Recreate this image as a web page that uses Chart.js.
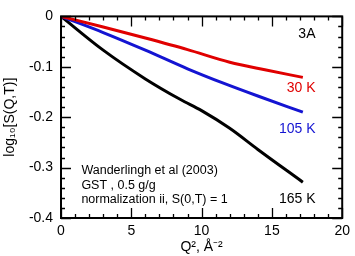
<!DOCTYPE html>
<html><head><meta charset="utf-8">
<script src="https://cdn.jsdelivr.net/npm/chart.js@4/dist/chart.umd.min.js"></script>
<style>html,body{margin:0;padding:0;background:#fff}#wrap{width:355px;height:256px}</style>
</head><body><div id="wrap"><canvas id="c" width="355" height="256"></canvas></div>
<script>
// Data
const q2_30K  = [0, 3, 6, 9, 12, 14.5, 17.2];
const s_30K   = [0, -0.021, -0.043, -0.066, -0.091, -0.106, -0.121];
const q2_105K = [0, 3, 6, 9, 11.5, 14, 17.2];
const s_105K  = [0, -0.032, -0.067, -0.104, -0.132, -0.158, -0.19];
const q2_165K = [0, 3, 6, 8.5, 10, 12, 14, 17.2];
const s_165K  = [0, -0.067, -0.124, -0.165, -0.187, -0.222, -0.264, -0.329];
const seriesNames = ['30 K', '105 K', '165 K'];
const xTicks = [0, 5, 10, 15, 20];
const yTicks = [0, -0.1, -0.2, -0.3, -0.4];
const noteLines = ['Wanderlingh et al (2003)', 'GST , 0.5 g/g', 'normalization ii, S(0,T) = 1'];
const panelLabel = '3A';

const colors = ['#e00000', '#1414d2', '#000000'];
const pts = (xs, ys) => xs.map((x, i) => ({x, y: ys[i]}));
const FONT = 'Liberation Sans, Arial, sans-serif';

const decor = {
  id: 'decor',
  afterDraw(chart) {
    const ctx = chart.ctx, xs = chart.scales.x, ys = chart.scales.y;
    const L = xs.left, R = xs.right, T = ys.top, B = ys.bottom;
    ctx.save();
    ctx.strokeStyle = '#000'; ctx.lineWidth = 2;
    ctx.strokeRect(L, T, R - L, B - T);
    ctx.lineWidth = 1.3;
    ctx.beginPath();
    for (let v = 0; v <= 20; v += 1) {
      const p = Math.round(xs.getPixelForValue(v)) + 0.5;
      const len = (v % 5 === 0) ? 10 : 4;
      ctx.moveTo(p, B); ctx.lineTo(p, B - len);
      ctx.moveTo(p, T); ctx.lineTo(p, T + len);
    }
    for (let k = 0; k <= 20; k++) {
      const v = -k * 0.02;
      const p = Math.round(ys.getPixelForValue(v)) + 0.5;
      const len = (k % 5 === 0) ? 10 : 4;
      ctx.moveTo(L, p); ctx.lineTo(L + len, p);
      ctx.moveTo(R, p); ctx.lineTo(R - len, p);
    }
    ctx.stroke();
    // annotations
    ctx.textBaseline = 'middle';
    ctx.font = '14px ' + FONT;
    ctx.textAlign = 'right';
    ctx.fillStyle = '#000';
    ctx.fillText(panelLabel, xs.getPixelForValue(18.1), ys.getPixelForValue(-0.035));
    const labY = [-0.143, -0.223, -0.362];
    seriesNames.forEach((n, i) => {
      ctx.fillStyle = colors[i];
      ctx.fillText(n, xs.getPixelForValue(18.1), ys.getPixelForValue(labY[i]));
    });
    ctx.textAlign = 'left';
    ctx.fillStyle = '#000';
    ctx.font = '12.5px ' + FONT;
    const noteY = [-0.305, -0.335, -0.364];
    noteLines.forEach((t, i) => ctx.fillText(t, xs.getPixelForValue(1.45), ys.getPixelForValue(noteY[i])));
    ctx.restore();
  }
};

new Chart(document.getElementById('c'), {
  type: 'line',
  data: {
    datasets: [
      {label: seriesNames[0], data: pts(q2_30K, s_30K)},
      {label: seriesNames[1], data: pts(q2_105K, s_105K)},
      {label: seriesNames[2], data: pts(q2_165K, s_165K)}
    ].map((d, i) => Object.assign(d, {borderColor: colors[i], borderWidth: 3, pointRadius: 0, fill: false, cubicInterpolationMode: 'monotone'}))
  },
  options: {
    responsive: false, animation: false, devicePixelRatio: 1,
    layout: {padding: {top: 12, right: 10, left: 0, bottom: 0}},
    plugins: {legend: {display: false}, tooltip: {enabled: false}},
    scales: {
      x: {
        type: 'linear', min: 0, max: 20,
        afterBuildTicks: s => { s.ticks = xTicks.map(v => ({value: v})); },
        grid: {display: false, drawTicks: false},
        border: {display: false},
        ticks: {color: '#000', font: {family: FONT, size: 14}, padding: 5, maxRotation: 0, callback: v => String(v)},
        title: {display: true, text: 'Q², Å⁻²', color: '#000', font: {family: FONT, size: 14}, padding: {top: 0, bottom: 0}},
        afterFit: s => { s.height = 38; }
      },
      y: {
        type: 'linear', min: -0.4, max: 0,
        afterBuildTicks: s => { s.ticks = yTicks.map(v => ({value: v})); },
        grid: {display: false, drawTicks: false},
        border: {display: false},
        ticks: {color: '#000', font: {family: FONT, size: 14}, padding: 8, callback: v => v === 0 ? '0' : v.toFixed(1)},
        title: {display: true, text: 'log₁₀[S(Q,T)]', color: '#000', font: {family: FONT, size: 14}, padding: {top: 2, bottom: 0}},
        afterFit: s => { s.width = 61; }
      }
    }
  },
  plugins: [decor]
});
</script></body></html>
